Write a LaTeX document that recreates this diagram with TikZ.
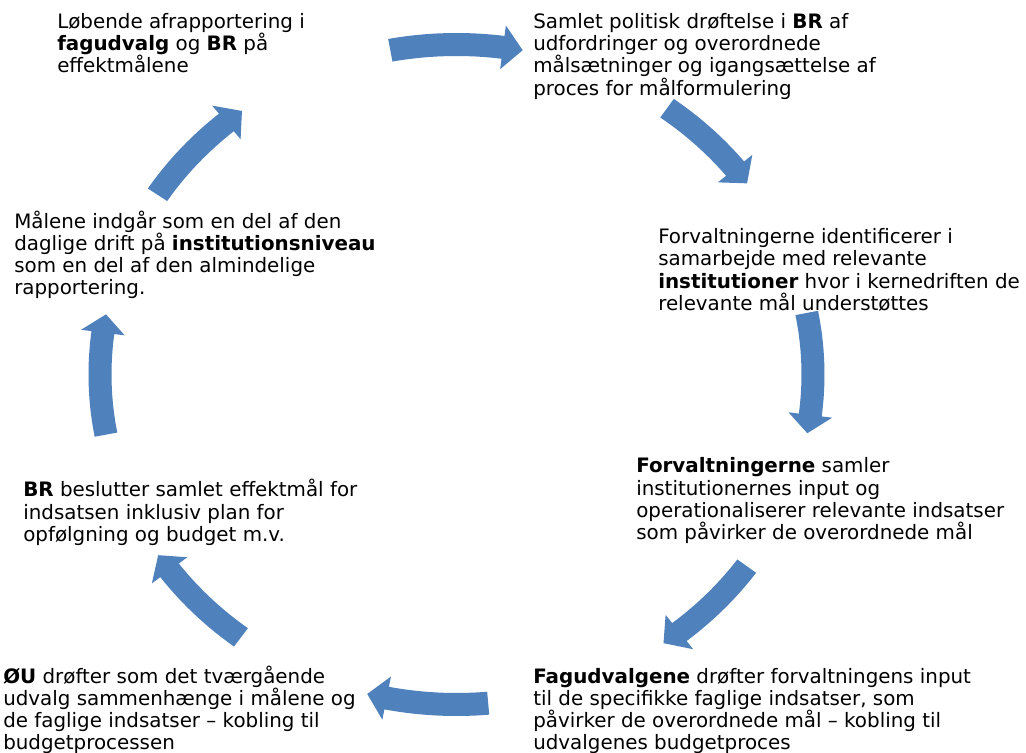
\documentclass[tikz,border=0pt]{standalone}
\usepackage{fontspec}
\setmainfont{DejaVu Sans}
\definecolor{arrowblue}{HTML}{4F81BD}
% #1 = centre angle on the ellipse, #2 = half span (degrees)
\newcommand\cycarrow[2]{%
  \pgfmathsetmacro\aS{#1+#2}%
  \pgfmathsetmacro\aT{#1-#2}%
  \pgfmathsetmacro\aB{#1-#2+3.2}%
  \fill[arrowblue] plot[domain=\aS:\aB, samples=25] ({456.5+368*cos(\x)},{374.5-341.5*sin(\x)})
    -- ({456.5+378.5*cos(\aB)},{374.5-352*sin(\aB)})
    -- ({456.5+356.5*cos(\aT)},{374.5-330*sin(\aT)})
    -- ({456.5+334.5*cos(\aB)},{374.5-308*sin(\aB)})
    -- plot[domain=\aB:\aS, samples=25] ({456.5+345*cos(\x)},{374.5-318.5*sin(\x)}) -- cycle;}
\begin{document}
\begin{tikzpicture}[x=0.75pt,y=-0.75pt,
  txt/.style={anchor=base west, align=left, inner sep=0pt, font=\fontsize{14.9}{16.725}\selectfont}]
\useasboundingbox (0,0) rectangle (1026,753);
\fill[white] (0,0) rectangle (1026,753);
\foreach \c/\h in {90/10.7, 44.6/9.2, 0.25/10.5, -45/9.5, -94.7/9.8, -137/9.8, 180/10.5, 137/10} {\cycarrow{\c}{\h}}
% anchors are at the baseline of the last line (first baseline + (n-1)*22.3)
\node[txt] (t1) at (57,72.6) {Løbende afrapportering i\\\textbf{fagudvalg} og \textbf{BR} på\\effektmålene};
\node[txt] (t2) at (533,95.2) {Samlet politisk drøftelse i \textbf{BR} af\\udfordringer og overordnede\\målsætninger og igangsættelse af\\proces for målformulering};
\node[txt] (t3) at (658,310.4) {Forvaltningerne identificerer i\\samarbejde med relevante\\\textbf{institutioner} hvor i kernedriften de\\relevante mål understøttes};
\node[txt] (t4) at (636,539.6) {\textbf{Forvaltningerne} samler\\institutionernes input og\\operationaliserer relevante indsatser\\som påvirker de overordnede mål};
\node[txt] (t5) at (533,749.9) {\textbf{Fagudvalgene} drøfter forvaltningens input\\til de specifikke faglige indsatser, som\\påvirker de overordnede mål – kobling til\\udvalgenes budgetproces};
\node[txt] (t6) at (3,749.9) {\textbf{ØU} drøfter som det tværgående\\udvalg sammenhænge i målene og\\de faglige indsatser – kobling til\\budgetprocessen};
\node[txt] (t7) at (23,541.3) {\textbf{BR} beslutter samlet effektmål for\\indsatsen inklusiv plan for\\opfølgning og budget m.v.};
\node[txt] (t8) at (14,294.9) {Målene indgår som en del af den\\daglige drift på \textbf{institutionsniveau}\\som en del af den almindelige\\rapportering.};
\end{tikzpicture}
\end{document}
